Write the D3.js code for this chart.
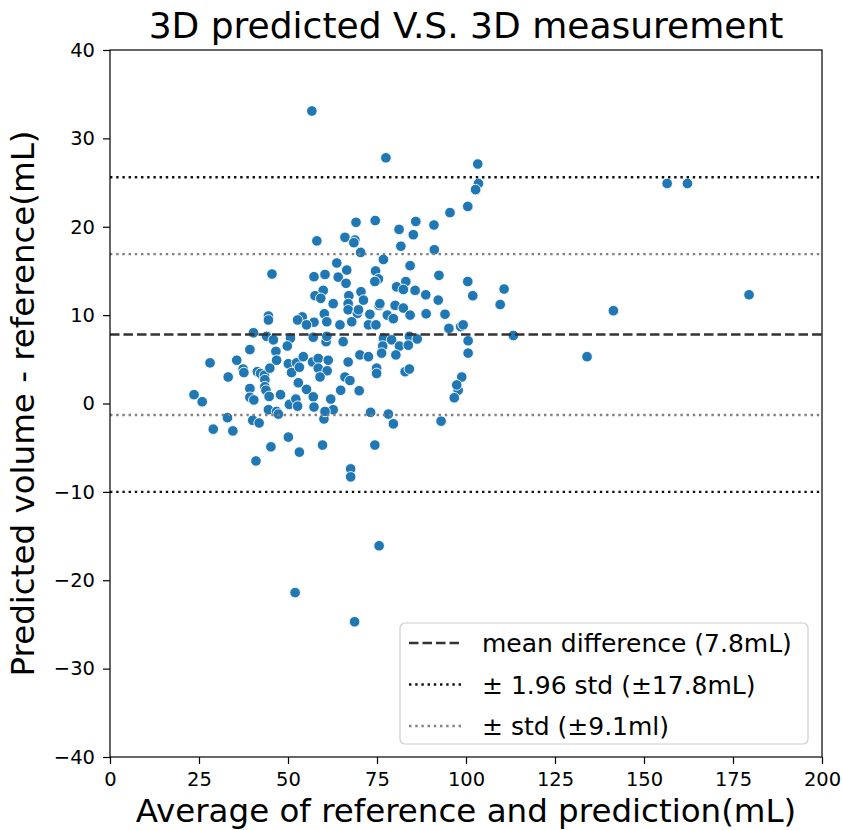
<!DOCTYPE html>
<html><head><meta charset="utf-8">
<script src="https://cdn.jsdelivr.net/npm/d3@7"></script>
<style>body{margin:0;background:#fff}svg{display:block;font-family:"DejaVu Sans",sans-serif}</style>
</head><body><svg id="c" width="843" height="830"></svg>
<script>
const titleText = "3D predicted V.S. 3D measurement";
const xLabel = "Average of reference and prediction(mL)";
const yLabel = "Predicted volume - reference(mL)";
const xTicks = [0,25,50,75,100,125,150,175,200];
const yTicks = [-40,-30,-20,-10,0,10,20,30,40];
const meanDiff = 7.8;
const sd196 = 17.8;
const sd1 = 9.1;
const legendLabels = ["mean difference (7.8mL)","\u00b1 1.96 std (\u00b117.8mL)","\u00b1 std (\u00b19.1ml)"];

const avgValues = [
56.7,77.5,103.3,103.5,102.7,100.5,95.5,156.5,162.2,179.5,110.7,109.6,141.4,113.3,134.0,75.6,52.0,68.7,41.0,53.2,67.6,67.6,
58.1,45.5,57.3,60.4,59.9,57.6,59.2,44.5,44.5,54.0,52.7,57.3,60.2,55.2,40.3,
44.0,45.9,50.7,49.8,39.3,46.6,46.8,28.1,35.6,37.4,37.6,41.4,42.3,43.4,43.5,44.9,50.1,52.4,51.0,53.2,33.2,52.9,55.2,57.1,62.0,39.3,39.3,40.4,43.5,43.8,44.7,47.9,23.6,25.9,50.4,52.2,52.7,44.5,46.8,47.3,57.3,60.1,33.0,40.1,41.9,29.0,34.5,50.1,45.2,59.7,
69.1,74.5,85.9,91.0,81.2,85.2,66.0,68.8,68.5,81.7,91.1,70.4,76.8,63.7,84.3,66.5,74.6,64.1,92.4,75.4,74.4,66.3,83.1,100.5,80.5,85.7,70.5,82.4,101.9,62.7,67.1,71.2,66.9,88.7,92.2,75.6,80.1,82.4,66.9,69.5,69.8,73.0,75.8,77.9,84.3,88.8,94.1,
60.9,64.6,67.9,72.6,74.7,79.6,95.2,98.5,99.2,100.6,100.6,57.1,60.7,60.9,65.5,76.8,79.1,76.6,81.3,84.1,86.3,83.8,76.3,80.3,70.2,72.6,66.9,54.3,56.9,58.5,61.3,58.5,61.0,59.0,74.9,74.9,82.9,84.1,66.0,67.4,64.8,70.0,62.7,60.4,73.2,78.2,79.6,93.0,98.8,97.8,97.4,96.7,74.4
];
const diffValues = [
33.1,27.8,27.1,24.9,24.2,22.3,21.6,24.9,24.9,12.3,12.95,11.2,10.5,7.7,5.3,-16.1,-21.4,-24.7,-6.5,-5.5,-7.4,-8.3,
18.4,14.65,14.35,14.6,12.8,12.2,11.9,9.9,9.45,9.8,9.45,9.2,10.15,8.9,8.0,
7.6,7.2,7.4,6.5,6.1,5.9,4.9,4.6,4.9,3.9,3.5,3.6,3.4,3.2,2.7,4.0,4.5,4.6,3.5,4.1,3.0,2.35,1.6,0.75,0.5,1.7,0.7,0.4,1.9,1.5,0.8,1.0,1.0,0.2,-0.1,0.5,-0.3,-0.7,-0.9,-1.2,-0.4,-1.75,-1.6,-1.9,-2.2,-2.9,-3.1,-3.8,-4.9,-4.7,
20.5,20.7,20.6,20.2,19.7,19.1,18.8,18.5,18.2,17.8,17.4,17.1,16.3,15.9,15.6,15.1,15.0,14.3,14.5,14.1,13.8,13.6,13.8,13.8,13.2,12.8,12.65,12.9,12.2,11.3,12.2,11.7,11.3,12.3,11.7,11.1,11.1,10.8,10.6,10.2,10.6,10.1,11.3,10.0,10.0,10.15,10.1,
9.25,8.9,9.25,8.9,8.9,9.6,8.5,8.7,8.9,7.1,5.7,7.5,7.0,7.6,7.0,7.4,7.2,6.5,6.5,7.6,7.3,6.6,5.7,5.5,5.5,5.3,4.7,5.3,4.7,5.1,4.9,4.0,3.7,3.0,4.0,3.4,3.6,3.9,3.0,2.6,1.5,1.45,-0.7,-0.9,-1.0,-1.2,-2.3,-2.0,3.0,1.5,2.1,0.65,-4.7
];

const svg = d3.select("#c");
const L = 110, T = 50, R = 822, B = 757;
const x = d3.scaleLinear().domain([0,200]).range([L,R]);
const y = d3.scaleLinear().domain([-40,40]).range([B,T]);

// points
const pts = avgValues.map((v,i)=>({x:v,y:diffValues[i]}));
svg.append("g").selectAll("circle").data(pts).join("circle")
  .attr("cx",d=>x(d.x)).attr("cy",d=>y(d.y)).attr("r",5.3)
  .attr("fill","#1f77b4").attr("stroke","#fff").attr("stroke-width",0.9);

// reference lines
const lines = [
  {v:meanDiff, c:"#333333", dash:"9.5,4", w:2.5},
  {v:meanDiff+sd196, c:"#111111", dash:"2.4,3.8", w:2.4},
  {v:meanDiff-sd196, c:"#111111", dash:"2.4,3.8", w:2.4},
  {v:meanDiff+sd1, c:"#808080", dash:"2.4,3.8", w:2.4},
  {v:meanDiff-sd1, c:"#808080", dash:"2.4,3.8", w:2.4}
];
svg.append("g").selectAll("line").data(lines).join("line")
  .attr("x1",L).attr("x2",R).attr("y1",d=>y(d.v)).attr("y2",d=>y(d.v))
  .attr("stroke",d=>d.c).attr("stroke-dasharray",d=>d.dash).attr("stroke-width",d=>d.w);

// axes
const xa = svg.append("g").attr("transform",`translate(0,${B})`)
  .call(d3.axisBottom(x).tickValues(xTicks).tickFormat(d3.format("d")).tickSize(7).tickPadding(8));
const ya = svg.append("g").attr("transform",`translate(${L},0)`)
  .call(d3.axisLeft(y).tickValues(yTicks).tickFormat(d=>d<0?"\u2212"+Math.abs(d):d).tickSize(7).tickPadding(8));
[xa,ya].forEach(a=>{
  a.selectAll("text").attr("font-size",19.5).attr("fill","#000").attr("font-family","DejaVu Sans");
  a.selectAll("line").attr("stroke","#000").attr("stroke-width",1.2);
  a.select(".domain").remove();
});
svg.append("rect").attr("x",L).attr("y",T).attr("width",R-L).attr("height",B-T)
  .attr("fill","none").attr("stroke","#000").attr("stroke-width",1.2);

// title & labels
svg.append("text").attr("x",(L+R)/2).attr("y",38).attr("text-anchor","middle")
  .attr("font-size",36).text(titleText);
svg.append("text").attr("x",(L+R)/2).attr("y",822).attr("text-anchor","middle")
  .attr("font-size",32.5).text(xLabel);
svg.append("text").attr("transform",`translate(34,${(T+B)/2}) rotate(-90)`).attr("text-anchor","middle")
  .attr("font-size",32.5).text(yLabel);

// legend
const lg = svg.append("g");
lg.append("rect").attr("x",400).attr("y",623).attr("width",408).attr("height",121).attr("rx",5)
  .attr("fill","#fff").attr("fill-opacity",0.8).attr("stroke","#cccccc").attr("stroke-width",1.2);
const legendStyles = [lines[0], lines[1], lines[3]];
legendLabels.forEach((t,i)=>{
  const yy = 643 + i*41.5;
  const s = legendStyles[i];
  lg.append("line").attr("x1",409).attr("x2",463).attr("y1",yy).attr("y2",yy)
    .attr("stroke",s.c).attr("stroke-width",s.w).attr("stroke-dasharray",s.dash);
  lg.append("text").attr("x",482).attr("y",yy+9).attr("font-size",25).text(t);
});
</script></body></html>
